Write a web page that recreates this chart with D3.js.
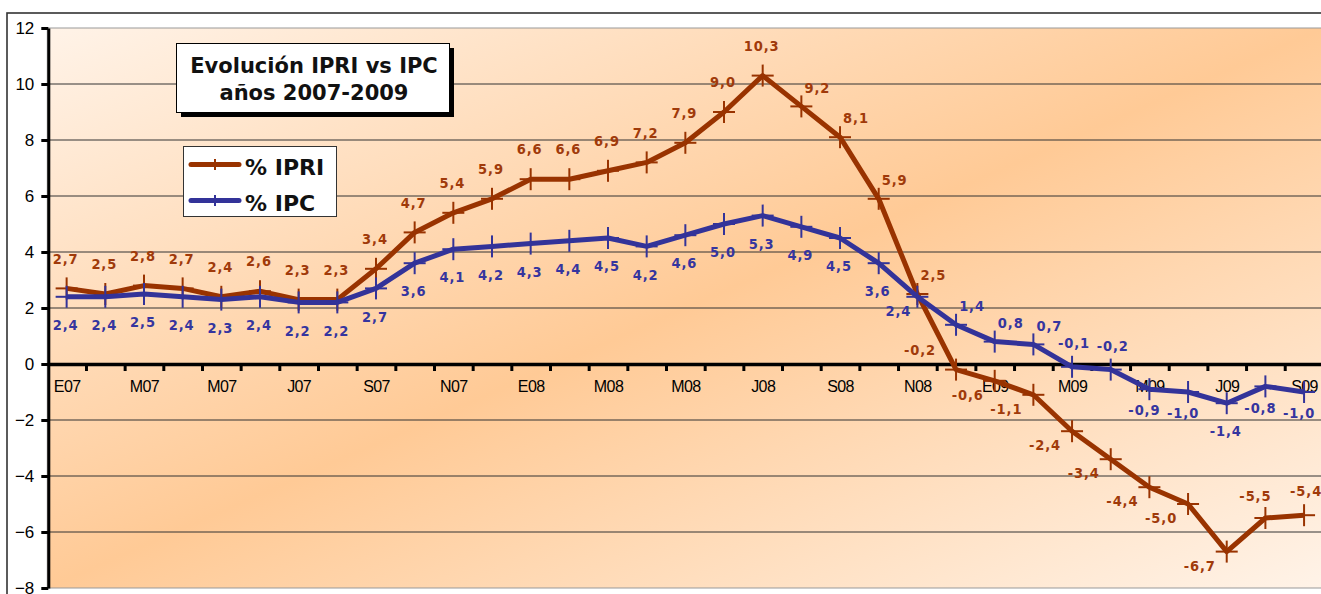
<!DOCTYPE html>
<html>
<head>
<meta charset="utf-8">
<script src="https://cdn.jsdelivr.net/npm/d3@7"></script>
<style>
  body { margin: 0; background: #fff; }
  svg { display: block; }
</style>
</head>
<body>
<svg id="chart" width="1321" height="594"></svg>
<script>
// meses (E=enero, F=febrero, M=marzo, A=abril, M=mayo, J=junio ...)
var months = ["E07","F07","M07","A07","M07","J07","J07","A07","S07","O07","N07","D07",
              "E08","F08","M08","A08","M08","J08","J08","A08","S08","O08","N08","D08",
              "E09","F09","M09","A09","M09","J09","J09","A09","S09"];
var ipri = [2.7, 2.5, 2.8, 2.7, 2.4, 2.6, 2.3, 2.3, 3.4, 4.7, 5.4, 5.9,
            6.6, 6.6, 6.9, 7.2, 7.9, 9.0, 10.3, 9.2, 8.1, 5.9, 2.5, -0.2,
            -0.6, -1.1, -2.4, -3.4, -4.4, -5.0, -6.7, -5.5, -5.4];
var ipc  = [2.4, 2.4, 2.5, 2.4, 2.3, 2.4, 2.2, 2.2, 2.7, 3.6, 4.1, 4.2,
            4.3, 4.4, 4.5, 4.2, 4.6, 5.0, 5.3, 4.9, 4.5, 3.6, 2.4, 1.4,
            0.8, 0.7, -0.1, -0.2, -0.9, -1.0, -1.4, -0.8, -1.0];
var yTicks = [-8, -6, -4, -2, 0, 2, 4, 6, 8, 10, 12];

// where each data label sits around its point
var ipriLabelPos = ["t","t","t","t","t","t","t","t","t","t","t","t",
                    "t","t","t","t","t","t","t","tr","tr","tr","tr","tl",
                    "bl","bl","bl","bl","bl","bl","bl","tls","ts"];
var ipcLabelPos  = ["b","b","b","b","b","b","b","b","b","b","b","b",
                    "b","b","b","b","b","b","b","b","b","b","lb","tr",
                    "tr","tr","ts","ts","bs","bs","b","bs","bs"];
var labelOffsets = {
  t: [-1, -30], b: [-1, 28], tr: [16, -19], tl: [-36, -20], bl: [-27, 14],
  lb: [-19, 14], ts: [2, -24], bs: [-5, 21], tls: [-10, -22]
};

var svg = d3.select("#chart");
var plot = { left: 47.3, right: 1323.4, top: 28, bottom: 588 };
var n = months.length;

var x = d3.scalePoint().domain(d3.range(n)).range([plot.left, plot.right]).padding(0.5);
var xEdge = d3.scaleLinear().domain([0, n]).range([plot.left, plot.right]);
var y = d3.scaleLinear().domain([-8, 12]).range([plot.bottom, plot.top]);

var defs = svg.append("defs");
var grad = defs.append("linearGradient").attr("id", "bg")
  .attr("x1", 0).attr("y1", 0).attr("x2", 1).attr("y2", 1);
grad.append("stop").attr("offset", 0).attr("stop-color", "#fff3e8");
grad.append("stop").attr("offset", 0.5).attr("stop-color", "#ffca96");
grad.append("stop").attr("offset", 1).attr("stop-color", "#fff3e8");

// marco exterior
svg.append("rect")
  .attr("x", 7).attr("y", 13).attr("width", 1400).attr("height", 700)
  .attr("fill", "#fff").attr("stroke", "#333").attr("stroke-width", 1.6);

svg.append("rect")
  .attr("x", plot.left).attr("y", plot.top)
  .attr("width", plot.right - plot.left).attr("height", plot.bottom - plot.top)
  .attr("fill", "url(#bg)").attr("stroke", "#999").attr("stroke-width", 1);

// grid
svg.append("g").selectAll("line")
  .data(yTicks.filter(function(d) { return d !== 0 && d !== 12 && d !== -8; }))
  .enter().append("line")
    .attr("x1", plot.left).attr("x2", plot.right)
    .attr("y1", function(d) { return y(d); }).attr("y2", function(d) { return y(d); })
    .attr("stroke", "#333").attr("stroke-width", 1);

// eje Y
var yAxis = svg.append("g")
  .attr("transform", "translate(" + (plot.left + 1) + ",0)")
  .call(d3.axisLeft(y).tickValues(yTicks).tickSize(7).tickSizeOuter(0).tickPadding(7));
yAxis.select(".domain").attr("stroke", "#000").attr("stroke-width", 3);
yAxis.selectAll(".tick line").attr("stroke", "#000").attr("stroke-width", 3);
yAxis.selectAll("text")
  .attr("font-family", "'Liberation Sans', Arial, sans-serif")
  .attr("font-size", 17).attr("fill", "#000");

// eje X en cero: marcas entre categorias
var xTicks = svg.append("g")
  .attr("transform", "translate(0," + y(0) + ")")
  .call(d3.axisBottom(xEdge).tickValues(d3.range(1, n + 1)).tickSize(7).tickSizeOuter(0).tickFormat(""));
xTicks.select(".domain").attr("stroke", "#000").attr("stroke-width", 3.5);
xTicks.selectAll(".tick line").attr("stroke", "#000").attr("stroke-width", 3);

var xLabels = svg.append("g")
  .attr("transform", "translate(0," + y(0) + ")")
  .call(d3.axisBottom(x)
    .tickValues(d3.range(0, n, 2))
    .tickSize(0)
    .tickFormat(function(i) { return months[i]; }));
xLabels.select(".domain").remove();
xLabels.selectAll("text")
  .attr("y", 28).attr("dy", null)
  .attr("font-family", "'Liberation Sans', Arial, sans-serif")
  .attr("font-size", 16).attr("letter-spacing", -0.6).attr("fill", "#000");

// series
var series = [
  { name: "% IPRI", values: ipri, color: "#993300", pos: ipriLabelPos, labelColor: "#a03a0a" },
  { name: "% IPC",  values: ipc,  color: "#333399", pos: ipcLabelPos,  labelColor: "#35359f" }
];

var line = d3.line()
  .x(function(d, i) { return x(i); })
  .y(function(d) { return y(d); });

function plus(g, cx, cy, r, color) {
  g.append("line").attr("x1", cx - r).attr("x2", cx + r).attr("y1", cy).attr("y2", cy)
    .attr("stroke", color).attr("stroke-width", 2);
  g.append("line").attr("x1", cx).attr("x2", cx).attr("y1", cy - r).attr("y2", cy + r)
    .attr("stroke", color).attr("stroke-width", 2);
}

series.forEach(function(s) {
  var g = svg.append("g");
  g.append("path")
    .datum(s.values)
    .attr("d", line)
    .attr("fill", "none")
    .attr("stroke", s.color)
    .attr("stroke-width", 5)
    .attr("stroke-linejoin", "round");
  s.values.forEach(function(v, i) { plus(g, x(i), y(v), 11, s.color); });
});

series.forEach(function(s) {
  svg.append("g").selectAll("text")
    .data(s.values)
    .enter().append("text")
      .attr("x", function(d, i) { return x(i) + labelOffsets[s.pos[i]][0]; })
      .attr("y", function(d, i) { return y(d) + labelOffsets[s.pos[i]][1]; })
      .attr("dy", "0.36em")
      .attr("text-anchor", "middle")
      .attr("font-family", "'DejaVu Sans Condensed', 'DejaVu Sans', Verdana, sans-serif")
      .attr("font-stretch", "condensed")
      .attr("font-weight", "bold")
      .attr("font-size", 14.5)
      .attr("letter-spacing", 0.9)
      .attr("fill", s.labelColor)
      .text(function(d) { return d3.format(".1f")(d).replace(".", ",").replace("−", "-"); });
});

// titulo
svg.append("rect").attr("x", 181).attr("y", 48).attr("width", 273).attr("height", 69).attr("fill", "#000");
svg.append("rect").attr("x", 176.5).attr("y", 43.5).attr("width", 273).attr("height", 69)
  .attr("fill", "#fff").attr("stroke", "#000").attr("stroke-width", 1);
var title = svg.append("text")
  .attr("text-anchor", "middle")
  .attr("font-family", "'DejaVu Sans', Verdana, sans-serif")
  .attr("font-weight", "bold").attr("font-size", 21).attr("fill", "#111");
title.append("tspan").attr("x", 314).attr("y", 73).text("Evolución IPRI vs IPC");
title.append("tspan").attr("x", 314).attr("y", 100).text("años 2007-2009");

// leyenda
var legend = svg.append("g");
legend.append("rect").attr("x", 183.5).attr("y", 146.5).attr("width", 153).attr("height", 70)
  .attr("fill", "#fff").attr("stroke", "#333").attr("stroke-width", 1);
series.forEach(function(s, k) {
  var ly = 164.5 + k * 36;
  legend.append("line").attr("x1", 191).attr("x2", 239).attr("y1", ly).attr("y2", ly)
    .attr("stroke", s.color).attr("stroke-width", 5).attr("stroke-linecap", "round");
  plus(legend, 215, ly, 5.5, s.color);
  legend.append("text")
    .attr("x", 245).attr("y", ly + 10)
    .attr("font-family", "'DejaVu Sans', Verdana, sans-serif")
    .attr("font-weight", "bold").attr("font-size", 22).attr("fill", "#111")
    .text(s.name);
});
</script>
</body>
</html>
